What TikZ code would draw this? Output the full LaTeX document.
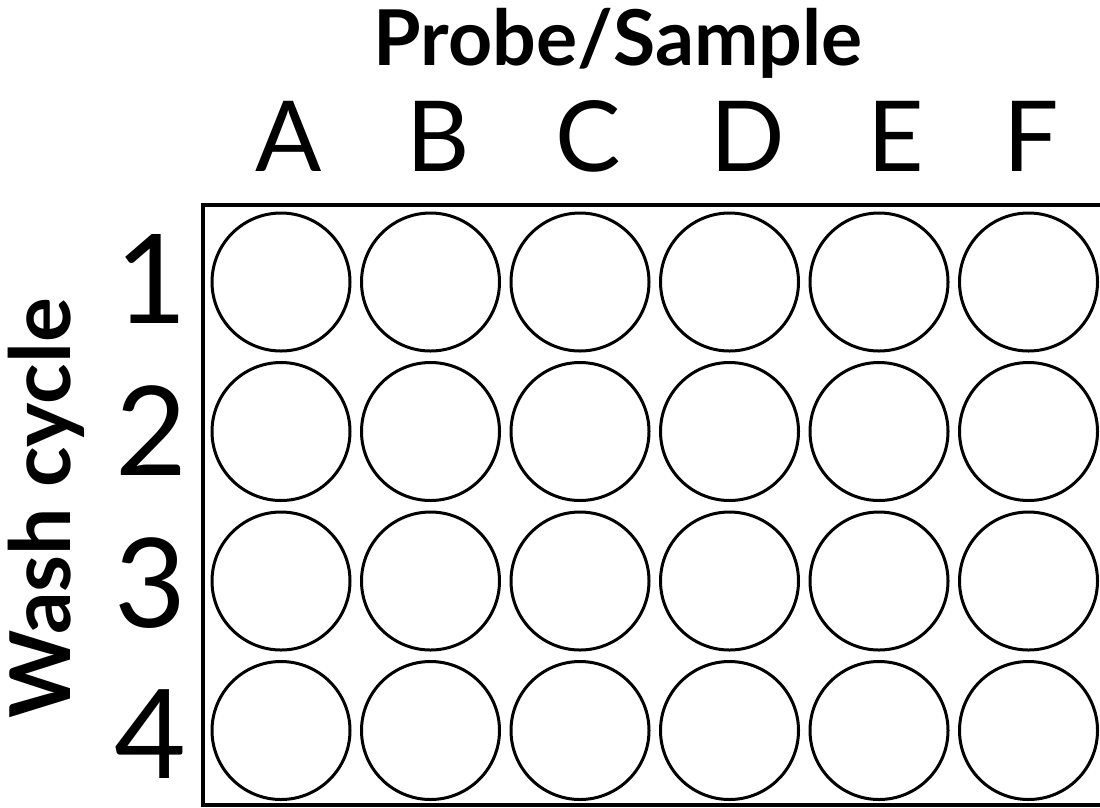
\documentclass[tikz,border=0pt]{standalone}
\usepackage{fontspec}
\setmainfont{Lato}
\usetikzlibrary{positioning}

\begin{document}
\begin{tikzpicture}[
    x=1pt, y=-1pt,
    node distance=11.5pt,
    well/.style={circle, draw, line width=3pt, minimum size=138pt, inner sep=0pt, outer sep=0pt},
    collabel/.style={anchor=base, inner sep=0pt, font=\fontsize{98}{98}\selectfont},
    rowlabel/.style={anchor=base, inner sep=0pt, font=\fontsize{124}{124}\selectfont},
    heading/.style={anchor=base, inner sep=0pt, font=\bfseries\fontsize{77}{77}\selectfont}
]
    \useasboundingbox (0,0) rectangle (1100,807);

    % Plate frame
    \draw[line width=4pt] (203,205) rectangle (1112,804.5);

    % Wells, row 1
    \node[well] (w1a) at (281,282) {};
    \node[well, right=of w1a] (w1b) {};
    \node[well, right=of w1b] (w1c) {};
    \node[well, right=of w1c] (w1d) {};
    \node[well, right=of w1d] (w1e) {};
    \node[well, right=of w1e] (w1f) {};

    % Wells, row 2
    \node[well, below=of w1a] (w2a) {};
    \node[well, right=of w2a] (w2b) {};
    \node[well, right=of w2b] (w2c) {};
    \node[well, right=of w2c] (w2d) {};
    \node[well, right=of w2d] (w2e) {};
    \node[well, right=of w2e] (w2f) {};

    % Wells, row 3
    \node[well, below=of w2a] (w3a) {};
    \node[well, right=of w3a] (w3b) {};
    \node[well, right=of w3b] (w3c) {};
    \node[well, right=of w3c] (w3d) {};
    \node[well, right=of w3d] (w3e) {};
    \node[well, right=of w3e] (w3f) {};

    % Wells, row 4
    \node[well, below=of w3a] (w4a) {};
    \node[well, right=of w4a] (w4b) {};
    \node[well, right=of w4b] (w4c) {};
    \node[well, right=of w4c] (w4d) {};
    \node[well, right=of w4d] (w4e) {};
    \node[well, right=of w4e] (w4f) {};

    % Column labels
    \node[collabel] (colA) at (289,171) {A};
    \node[collabel] (colB) at (438,171) {B};
    \node[collabel] (colC) at (588,171) {C};
    \node[collabel] (colD) at (748,171) {D};
    \node[collabel] (colE) at (896,171) {E};
    \node[collabel] (colF) at (1031,171) {F};
    \node[heading] (probe) at (618,65) {Probe/Sample};

    % Row labels
    \node[rowlabel] (row1) at (151,323) {1};
    \node[rowlabel] (row2) at (151,475) {2};
    \node[rowlabel] (row3) at (150,627) {3};
    \node[rowlabel] (row4) at (150,778) {4};
    \node[heading, rotate=90, font=\bfseries\fontsize{84}{84}\selectfont] (wash) at (70,508) {Wash cycle};
\end{tikzpicture}
\end{document}
